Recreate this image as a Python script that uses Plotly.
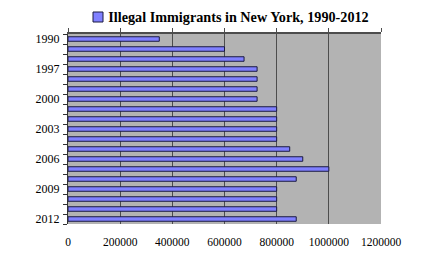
import plotly.graph_objects as go

years = ["1990", "1995", "1996", "1997", "1998", "1999", "2000", "2001", "2002",
         "2003", "2004", "2005", "2006", "2007", "2008", "2009", "2010", "2011", "2012"]
immigrants = [350000, 600000, 675000, 725000, 725000, 725000, 725000, 800000, 800000,
              800000, 800000, 850000, 900000, 1000000, 875000, 800000, 800000, 800000, 875000]
shown_labels = ["1990", "1997", "2000", "2003", "2006", "2009", "2012"]
x_ticks = [0, 200000, 400000, 600000, 800000, 1000000, 1200000]
title_text = "Illegal Immigrants in New York, 1990-2012"

fig = go.Figure()
fig.add_trace(go.Bar(
    y=years, x=immigrants, orientation="h", width=0.45,
    marker=dict(color="#8080ff", line=dict(color="#1a1a40", width=1)),
    name=title_text, showlegend=False,
))

serif = "Liberation Serif, Times New Roman, serif"

fig.update_layout(
    width=441, height=262,
    margin=dict(l=68, r=60, t=34, b=38),
    paper_bgcolor="white", plot_bgcolor="#b3b3b3",
    bargap=0.55,
    title=dict(text="<b>" + title_text + "</b>", x=238.5 / 441, xanchor="center",
               y=1 - 17 / 262, yanchor="middle",
               font=dict(family=serif, size=14.2, color="black")),
    shapes=[dict(type="rect", xref="paper", yref="paper",
                 x0=(93 - 68) / 313, x1=(103 - 68) / 313,
                 y0=1 + (34 - 22) / 190, y1=1 + (34 - 12) / 190,
                 fillcolor="#8080ff", line=dict(color="#1a1a40", width=1))],
    xaxis=dict(range=[0, 1200000], tickvals=x_ticks, ticktext=[str(v) for v in x_ticks],
               showgrid=True, gridcolor="#4d4d4d", gridwidth=1.3,
               zeroline=False, showline=False, ticks="",
               ticklabelstandoff=9,
               tickfont=dict(family=serif, size=11.5, color="black")),
    xaxis2=dict(range=[0, 1200000], tickvals=x_ticks, overlaying="x", side="top",
                showticklabels=False, showgrid=False, zeroline=False,
                showline=True, linecolor="#4d4d4d", linewidth=2,
                ticks="outside", ticklen=4, tickcolor="#4d4d4d", tickwidth=1.3),
    yaxis=dict(type="category", range=[len(years) - 0.5, -0.5],
               tickvals=years,
               ticktext=[y if y in shown_labels else "" for y in years],
               tickson="boundaries", ticks="outside", ticklen=4,
               tickcolor="#333333", tickwidth=1,
               showline=True, linecolor="#333333", linewidth=1,
               showgrid=False, zeroline=False, ticklabelstandoff=5,
               tickfont=dict(family=serif, size=12, color="black")),
)
# invisible trace to activate top axis
fig.add_trace(go.Scatter(x=[0], y=[years[0]], xaxis="x2", mode="markers",
                         marker=dict(opacity=0), showlegend=False, hoverinfo="skip"))
fig.write_html("out.html")
